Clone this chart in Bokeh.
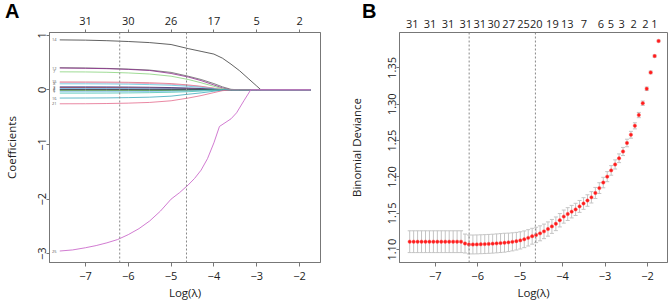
import numpy as np
from bokeh.plotting import figure
from bokeh.models import (FixedTicker, LinearAxis, Span, Whisker, TeeHead, Div,
                          ColumnDataSource, Range1d, NumeralTickFormatter)
from bokeh.layouts import row
from bokeh.embed import file_html
from bokeh.resources import INLINE
from bokeh.core.properties import value

FONT = "Open Sans"
AXC = "#777777"
TXT = "#222222"

# ---------------- Panel A: coefficient paths ----------------
knots_A = [-7.6, -7.0, -6.5, -6.0, -5.5, -5.0, -4.6, -4.3, -4.0, -3.8, -3.6, -3.4, -3.2, -3.0, -2.9, -1.74]

coef_14 = [0.915, 0.91, 0.90, 0.885, 0.865, 0.83, 0.755, 0.705, 0.655, 0.58, 0.47, 0.35, 0.21, 0.07, 0.0, 0.0]
coef_12 = [0.40, 0.395, 0.388, 0.375, 0.355, 0.30, 0.235, 0.17, 0.09, 0.035, 0.0, 0.0, 0.0, 0.0, 0.0, 0.0]
coef_11 = [0.405, 0.40, 0.393, 0.38, 0.362, 0.32, 0.25, 0.19, 0.115, 0.055, 0.01, 0.0, 0.0, 0.0, 0.0, 0.0]
coef_7 = [0.33, 0.328, 0.322, 0.31, 0.29, 0.25, 0.19, 0.13, 0.065, 0.02, 0.0, 0.0, 0.0, 0.0, 0.0, 0.0]
coef_15 = [0.145, 0.144, 0.142, 0.138, 0.13, 0.115, 0.09, 0.065, 0.03, 0.008, 0.0, 0.0, 0.0, 0.0, 0.0, 0.0]
coef_8 = [0.13, 0.13, 0.128, 0.124, 0.116, 0.102, 0.08, 0.058, 0.028, 0.006, 0.0, 0.0, 0.0, 0.0, 0.0, 0.0]
coef_9 = [0.11, 0.11, 0.108, 0.104, 0.096, 0.084, 0.066, 0.046, 0.02, 0.004, 0.0, 0.0, 0.0, 0.0, 0.0, 0.0]
coef_3 = [0.055, 0.055, 0.054, 0.052, 0.048, 0.042, 0.034, 0.024, 0.01, 0.0, 0.0, 0.0, 0.0, 0.0, 0.0, 0.0]
coef_4 = [0.04, 0.04, 0.039, 0.037, 0.034, 0.03, 0.024, 0.016, 0.007, 0.0, 0.0, 0.0, 0.0, 0.0, 0.0, 0.0]
coef_5 = [0.02, 0.02, 0.02, 0.019, 0.017, 0.015, 0.012, 0.008, 0.003, 0.0, 0.0, 0.0, 0.0, 0.0, 0.0, 0.0]
coef_6 = [0.005, 0.005, 0.005, 0.005, 0.004, 0.004, 0.003, 0.002, 0.001, 0.0, 0.0, 0.0, 0.0, 0.0, 0.0, 0.0]
coef_2 = [-0.015, -0.015, -0.015, -0.014, -0.013, -0.011, -0.009, -0.006, -0.002, 0.0, 0.0, 0.0, 0.0, 0.0, 0.0, 0.0]
coef_1 = [-0.035, -0.035, -0.034, -0.033, -0.03, -0.026, -0.02, -0.013, -0.005, 0.0, 0.0, 0.0, 0.0, 0.0, 0.0, 0.0]
coef_10 = [-0.06, -0.06, -0.059, -0.056, -0.051, -0.044, -0.034, -0.022, -0.008, 0.0, 0.0, 0.0, 0.0, 0.0, 0.0, 0.0]
coef_16 = [-0.15, -0.149, -0.147, -0.142, -0.134, -0.115, -0.08, -0.055, -0.025, -0.007, 0.0, 0.0, 0.0, 0.0, 0.0, 0.0]
coef_21 = [-0.255, -0.254, -0.25, -0.243, -0.23, -0.2, -0.15, -0.105, -0.05, -0.015, 0.0, 0.0, 0.0, 0.0, 0.0, 0.0]

# the large negative path gets its own finer knots
knots_25 = [-7.6, -7.3, -7.0, -6.75, -6.5, -6.25, -6.0, -5.75, -5.5, -5.25, -5.0, -4.8, -4.6,
            -4.45, -4.3, -4.15, -4.0, -3.87, -3.6, -3.47, -3.3, -3.14, -1.74]
coef_25 = [-2.95, -2.93, -2.89, -2.85, -2.80, -2.74, -2.65, -2.54, -2.40, -2.22, -2.00, -1.88,
           -1.74, -1.62, -1.47, -1.26, -0.97, -0.67, -0.53, -0.42, -0.20, 0.0, 0.0]

paths_A = [coef_11, coef_12, coef_14, coef_7, coef_15, coef_8, coef_9, coef_3, coef_4, coef_5,
           coef_6, coef_2, coef_1, coef_10, coef_16, coef_21]
colors_A = ["#666666", "#8a2a8a", "#3a3a3a", "#86d27a", "#df6b7f", "#e38fac", "#5ccbe2", "#2b2b80",
            "#7a1f3a", "#3a9ee6", "#222222", "#3a8a3a", "#7fc0f0", "#4cc4b4", "#3aaabb", "#e36a8c"]
color_25 = "#cc6ccc"

label_vals_A = [0.915, 0.40, 0.33, 0.145, 0.115, 0.05, 0.02, -0.01, -0.035, -0.15, -0.255, -2.95]
label_text_A = ["14", "12", "7", "15", "8", "3", "4", "6", "1", "16", "21", "25"]

top_ticks_A = [-7, -6, -5, -4, -3, -2]
top_labels_A = ["31", "30", "26", "17", "5", "2"]

vlines = [-6.2, -4.64]

# ---------------- Panel B: cross-validation ----------------
loglam_B = np.linspace(-7.60, -1.74, 64)
cvm_B = [1.1110, 1.1110, 1.1110, 1.1110, 1.1110, 1.1110, 1.1110, 1.1110, 1.1110, 1.1110,
         1.1110, 1.1110, 1.1110, 1.1110, 1.1085, 1.1072, 1.1072, 1.1073, 1.1075, 1.1077,
         1.1080, 1.1083, 1.1087, 1.1091, 1.1096, 1.1101, 1.1108, 1.1117, 1.1128, 1.1143,
         1.1163, 1.1185, 1.1203, 1.1225, 1.1252, 1.1284, 1.1320, 1.1356, 1.1405, 1.1455,
         1.1490, 1.1523, 1.1554, 1.1595, 1.1635, 1.1676, 1.1720, 1.1780, 1.1847, 1.1923,
         1.2004, 1.2090, 1.2172, 1.2257, 1.2350, 1.2467, 1.2580, 1.2703, 1.2851, 1.3014,
         1.3212, 1.3437, 1.3662, 1.3869]
cvsd_B = [0.0150, 0.0150, 0.0150, 0.0150, 0.0150, 0.0150, 0.0150, 0.0150, 0.0150, 0.0150,
          0.0150, 0.0150, 0.0150, 0.0150, 0.0130, 0.0130, 0.0130, 0.0130, 0.0130, 0.0130,
          0.0130, 0.0130, 0.0130, 0.0130, 0.0130, 0.0127, 0.0124, 0.0121, 0.0118, 0.0115,
          0.0112, 0.0109, 0.0106, 0.0103, 0.0100, 0.0098, 0.0096, 0.0094, 0.0092, 0.0090,
          0.0088, 0.0086, 0.0084, 0.0082, 0.0080, 0.0079, 0.0078, 0.0076, 0.0074, 0.0072,
          0.0069, 0.0066, 0.0063, 0.0060, 0.0056, 0.0052, 0.0047, 0.0042, 0.0036, 0.0030,
          0.0024, 0.0019, 0.0015, 0.0012]

top_pos_B = [-7.54, -7.12, -6.70, -6.28, -5.95, -5.62, -5.27, -4.92, -4.62, -4.24, -3.89,
             -3.50, -3.10, -2.86, -2.61, -2.33, -2.05, -1.84]
top_text_B = ["31", "31", "31", "31", "31", "30", "27", "25", "20", "19", "13", "7", "6", "5",
              "3", "2", "2", "1"]

x_ticks = [-7, -6, -5, -4, -3, -2]
y_ticks_A = [-3, -2, -1, 0, 1]
y_ticks_B = [1.10, 1.15, 1.20, 1.25, 1.30, 1.35]

panel_letters = ["A", "B"]


def style_axis(ax, label_size="11px"):
    ax.axis_line_color = AXC
    ax.major_tick_line_color = AXC
    ax.major_tick_out = 4
    ax.major_tick_in = 0
    ax.minor_tick_line_color = None
    ax.major_label_text_font = FONT
    ax.major_label_text_font_size = label_size
    ax.major_label_text_color = TXT
    ax.axis_label_text_font = FONT
    ax.axis_label_text_font_size = "11.5px"
    ax.axis_label_text_font_style = "normal"
    ax.axis_label_text_color = TXT


def make_fig(width, left, right, xr, yr):
    p = figure(width=width, height=302, x_range=Range1d(*xr), y_range=Range1d(*yr),
               output_backend="svg", toolbar_location=None,
               min_border_left=left, min_border_right=right, min_border_top=32, min_border_bottom=36)
    p.xgrid.visible = False
    p.ygrid.visible = False
    p.outline_line_color = AXC
    p.outline_line_width = 1
    p.background_fill_color = "white"
    p.border_fill_color = "white"
    return p


def letter_div(text, left_px):
    return Div(text=text, width=30, height=30,
               styles={"position": "absolute", "left": f"{left_px}px", "top": "0px",
                       "font-family": "Liberation Sans", "font-size": "20px", "font-weight": "bold",
                       "line-height": "normal", "color": "#000000", "margin": "0",
                       "padding": "0", "z-index": "10", "overflow": "visible"})


# ---- A ----
pA = make_fig(345, 40, 25, (-7.84, -1.51), (-3.16, 1.05))
for vals, col in zip(paths_A, colors_A):
    pA.line(knots_A, vals, line_color=col, line_width=0.8)
pA.line(knots_25, coef_25, line_color=color_25, line_width=0.9)
pA.text(x=[-7.73] * len(label_vals_A), y=label_vals_A, text=label_text_A,
        text_font=value(FONT), text_font_size="4px", text_color="#555555",
        text_align="center", text_baseline="middle")
for v in vlines:
    pA.add_layout(Span(location=v, dimension="height", line_color="#888888",
                       line_dash="2 2", line_width=1))

axA_b = pA.xaxis[0]
axA_b.ticker = FixedTicker(ticks=x_ticks)
axA_b.axis_label = "Log(λ)"
axA_b.axis_label_standoff = 2
style_axis(axA_b)
axA_l = pA.yaxis[0]
axA_l.ticker = FixedTicker(ticks=y_ticks_A)
axA_l.axis_label = "Coefficients"
axA_l.major_label_orientation = "vertical"
axA_l.major_label_standoff = 0
axA_l.axis_label_standoff = 17
style_axis(axA_l)
axA_l.major_tick_out = 3
axA_t = LinearAxis(ticker=FixedTicker(ticks=top_ticks_A),
                   major_label_overrides=dict(zip(top_ticks_A, top_labels_A)))
style_axis(axA_t)
axA_t.major_tick_out = 3
pA.add_layout(axA_t, "above")

# ---- B ----
pB = make_fig(324, 40, 2, (-7.84, -1.53), (1.0824, 1.3986))
lower = [m - s for m, s in zip(cvm_B, cvsd_B)]
upper = [m + s for m, s in zip(cvm_B, cvsd_B)]
src = ColumnDataSource(dict(x=loglam_B, y=cvm_B, lo=lower, up=upper))
ebc = "#c4c4c4"
pB.add_layout(Whisker(source=src, base="x", upper="up", lower="lo", dimension="height",
                      line_color=ebc, line_width=1,
                      upper_head=TeeHead(size=4, line_color=ebc, line_width=1),
                      lower_head=TeeHead(size=4, line_color=ebc, line_width=1)))
pB.scatter("x", "y", source=src, size=3.4, marker="circle", fill_color="#ff1a1a",
           line_color="#ff5050", line_width=0.5)
for v in vlines:
    pB.add_layout(Span(location=v, dimension="height", line_color="#888888",
                       line_dash="2 2", line_width=1))

axB_b = pB.xaxis[0]
axB_b.ticker = FixedTicker(ticks=x_ticks)
axB_b.axis_label = "Log(λ)"
axB_b.axis_label_standoff = 2
style_axis(axB_b)
axB_l = pB.yaxis[0]
axB_l.ticker = FixedTicker(ticks=y_ticks_B)
axB_l.formatter = NumeralTickFormatter(format="0.00")
axB_l.axis_label = "Binomial Deviance"
axB_l.major_label_orientation = "vertical"
axB_l.major_label_standoff = 0
axB_l.axis_label_standoff = 22
style_axis(axB_l)
axB_l.major_tick_out = 3
axB_t = LinearAxis(ticker=FixedTicker(ticks=top_pos_B),
                   major_label_overrides=dict(zip(top_pos_B, top_text_B)))
style_axis(axB_t)
axB_t.major_tick_out = 0
axB_t.axis_line_color = None
axB_t.major_tick_line_color = None
pB.add_layout(axB_t, "above")

layout = row(pA, pB, letter_div(panel_letters[0], 5), letter_div(panel_letters[1], 362))
open("out.html", "w").write(file_html(layout, INLINE))
